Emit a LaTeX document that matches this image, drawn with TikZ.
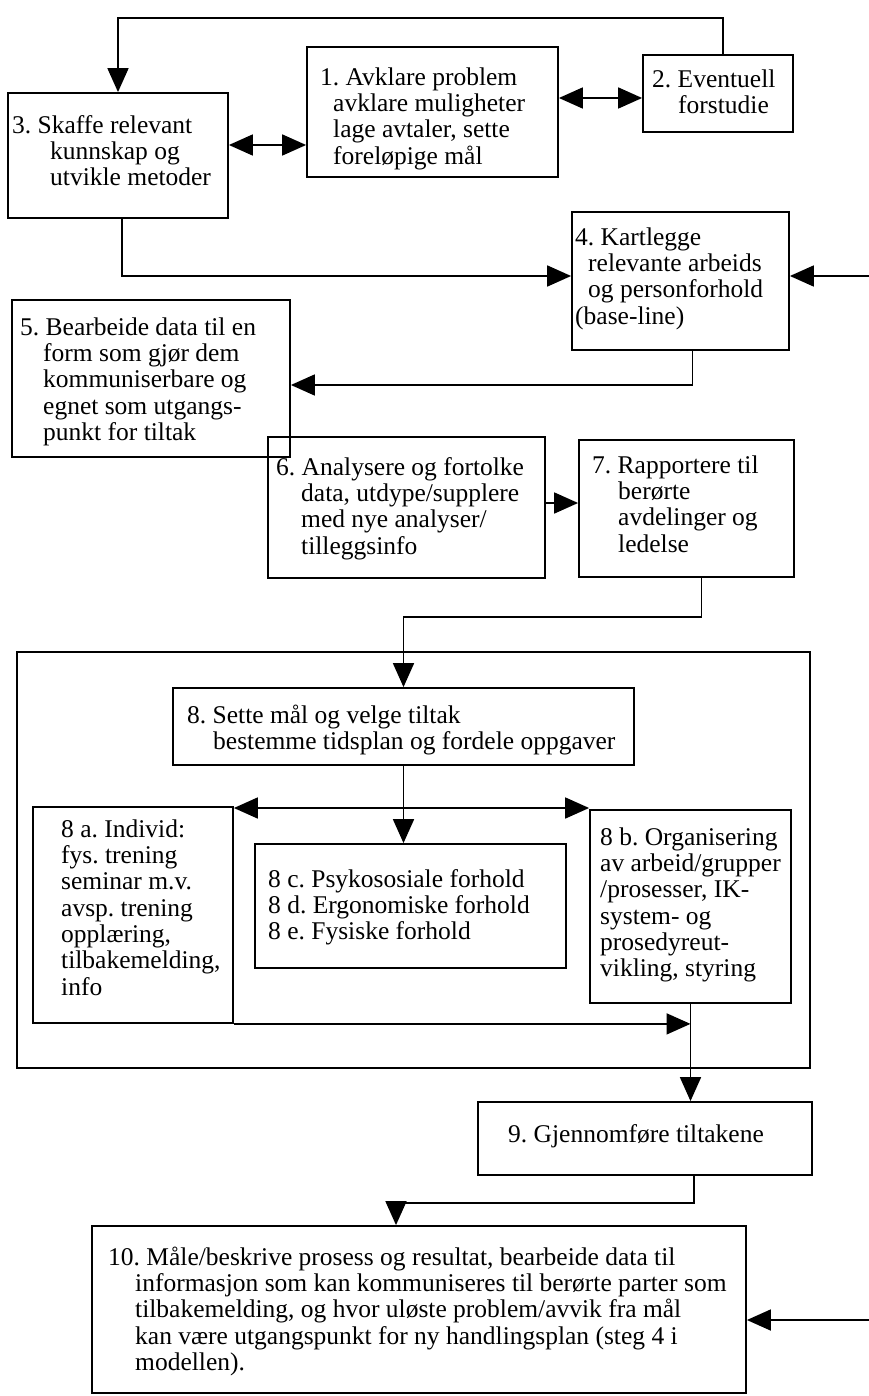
\documentclass[tikz,border=0pt]{standalone}
\usepackage{fontspec}
\setmainfont{Liberation Serif}
\usetikzlibrary{arrows.meta,fit}
\frenchspacing
\begin{document}
\begin{tikzpicture}[x=1pt,y=-1pt,
  box/.style={draw, line width=1.8pt, inner sep=0pt},
  txt/.style={anchor=north west, yshift=18.4pt, inner sep=0pt, align=left,
    font=\fontsize{25.5}{26.3}\selectfont},
  arr/.style={line width=1.8pt, -{Triangle[length=24pt,width=21pt]}},
  dbl/.style={line width=1.8pt, {Triangle[length=24pt,width=21pt]}-{Triangle[length=24pt,width=21pt]}}
]
\fill[white] (0,0) rectangle (869,1396);
\useasboundingbox (0,0) rectangle (869,1396);

% boxes
\node[box, fit={(307,47)(558,177)}] (b1) {};
\node[box, fit={(643,55)(793,132)}] (b2) {};
\node[box, fit={(8,93)(228,218)}] (b3) {};
\node[box, fit={(572,212)(789,350)}] (b4) {};
\node[box, fit={(12,300)(290,457)}] (b5) {};
\node[box, fit={(268,437)(545,578)}] (b6) {};
\node[box, fit={(579,440)(794,577)}] (b7) {};
\node[box, fit={(17,652)(810,1068)}] (outer) {};
\node[box, fit={(173,688)(634,765)}] (b8) {};
\node[box, fit={(33,807)(233,1023)}] (b8a) {};
\node[box, fit={(255,844)(566,968)}] (b8c) {};
\node[box, fit={(590,810)(791,1003)}] (b8b) {};
\node[box, fit={(478,1102)(812,1175)}] (b9) {};
\node[box, fit={(92,1226)(746,1393)}] (b10) {};

% texts
\node[txt] (t1) at (320,85) {\strut 1. Avklare problem\\\hspace*{13pt}avklare muligheter\\\hspace*{13pt}lage avtaler, sette\\\hspace*{13pt}foreløpige mål};
\node[txt] (t2) at (652,87) {\strut 2. Eventuell\\\hspace*{26pt}forstudie};
\node[txt] (t3) at (12,133) {\strut 3. Skaffe relevant\\\hspace*{38pt}kunnskap og\\\hspace*{38pt}utvikle metoder};
\node[txt] (t4) at (575,245) {\strut 4. Kartlegge\\\hspace*{13pt}relevante arbeids\\\hspace*{13pt}og personforhold\\(base-line)};
\node[txt] (t5) at (20,335) {\strut 5. Bearbeide data til en\\\hspace*{23pt}form som gjør dem\\\hspace*{23pt}kommuniserbare og\\\hspace*{23pt}egnet som utgangs-\\\hspace*{23pt}punkt for tiltak};
\node[txt] (t6) at (276,475) {\strut 6. Analysere og fortolke\\\hspace*{25pt}data, utdype/supplere\\\hspace*{25pt}med nye analyser/\\\hspace*{25pt}tilleggsinfo};
\node[txt] (t7) at (592,473) {\strut 7. Rapportere til\\\hspace*{26pt}berørte\\\hspace*{26pt}avdelinger og\\\hspace*{26pt}ledelse};
\node[txt] (t8) at (187,723) {\strut 8. Sette mål og velge tiltak\\\hspace*{26pt}bestemme tidsplan og fordele oppgaver};
\node[txt] (t8a) at (61,837) {\strut 8 a. Individ:\\fys. trening\\seminar m.v.\\avsp. trening\\opplæring,\\tilbakemelding,\\info};
\node[txt] (t8c) at (268,887) {\strut 8 c. Psykososiale forhold\\8 d. Ergonomiske forhold\\8 e. Fysiske forhold};
\node[txt] (t8b) at (600,845) {\strut 8 b. Organisering\\av arbeid/grupper\\/prosesser, IK-\\system- og\\prosedyreut-\\vikling, styring};
\node[txt] (t9) at (508,1142) {\strut 9. Gjennomføre tiltakene};
\node[txt] (t10) at (108,1265) {\strut 10. Måle/beskrive prosess og resultat, bearbeide data til\\\hspace*{27pt}informasjon som kan kommuniseres til berørte parter som\\\hspace*{27pt}tilbakemelding, og hvor uløste problem/avvik fra mål\\\hspace*{27pt}kan være utgangspunkt for ny handlingsplan (steg 4 i\\\hspace*{27pt}modellen).};

% connectors
\draw[arr] ([xshift=5pt]b2.north) -- ++(0,-36) -| (b3.north);
\draw[dbl] (b3.east |- 0,145) -- (b1.west |- 0,145);
\draw[dbl] (b1.east |- 0,98) -- (b2.west |- 0,98);
\draw[arr] ([xshift=4pt]b3.south) |- (b4.west |- 0,276);
\coordinate (in4) at (869,276);
\draw[arr] (in4) -- (b4.east |- in4);
\draw[arr] ([xshift=12pt]b4.south) |- (b5.east |- 0,385);
\draw[arr] (b6.east |- 0,503) -- (b7.west |- 0,503);
\draw[arr] ([xshift=15pt]b7.south) -- ++(0,39) -| (b8.north);
\draw[arr] (b8.south) -- (b8.south |- b8c.north);
\coordinate (j) at (b8.south |- 0,808);
\draw[arr] (j) -- (b8a.east |- j);
\draw[arr] (j) -- (b8b.west |- j);
\draw[arr] (b8a.south east) -- (b8b.south |- b8a.south east);
\draw[arr] (b8b.south) -- (b8b.south |- b9.north);
\draw[arr] ([xshift=49pt]b9.south) -- ++(0,27) -| ([xshift=-23pt]b10.north);
\coordinate (in10) at (869,1320);
\draw[arr] (in10) -- (b10.east |- in10);
\end{tikzpicture}
\end{document}
